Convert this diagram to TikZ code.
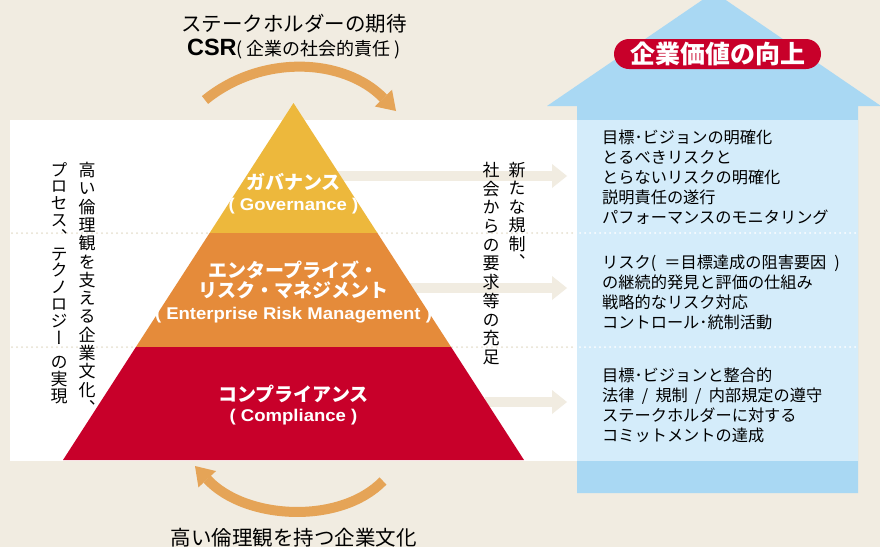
\documentclass[tikz,border=0pt]{standalone}
\usepackage{fontspec}
\setmainfont{Noto Sans CJK JP}
\newfontfamily\jpv[RawFeature=+vert]{Noto Sans CJK JP}
\newfontfamily\arialf{Liberation Sans}
\usetikzlibrary{arrows.meta}
\definecolor{bgc}{HTML}{F1ECE1}
\definecolor{skyc}{HTML}{A9D8F3}
\definecolor{paleblue}{HTML}{D4ECFA}
\definecolor{crimson}{HTML}{C8002A}
\definecolor{orangeband}{HTML}{E58B3A}
\definecolor{yellowband}{HTML}{EDB83C}
\definecolor{arcc}{HTML}{E5A457}
\definecolor{dotc}{HTML}{E6DFCD}
\newcommand\fs[2]{\fontsize{#1}{#2}\selectfont}
\newcommand\slsep{\hspace{0.45em}/\hspace{0.45em}}
\begin{document}
\begin{tikzpicture}[x=1pt,y=-1pt,
  blockarrow/.style={draw=bgc, line width=10pt, -{Triangle[width=24pt,length=15pt,line width=0pt]}},
  arcarrow/.style={draw=arcc, line width=10pt, -{Triangle[width=24pt,length=18pt,line width=0pt]}},
  dotline/.style={line width=2pt, line cap=round, dash pattern=on 0pt off 5pt},
  ptext/.style={text=white, font=\bfseries\fs{19}{20}, inner sep=0pt},
  plat/.style={text=white, font=\arialf\bfseries\fs{17}{18}, inner sep=0pt},
  rtext/.style={align=left, anchor=west, font=\fs{16.2}{20}, inner sep=0pt},
  vtext/.style={align=center, anchor=north, inner sep=0pt},
  toptext/.style={inner sep=0pt}]
\useasboundingbox (0,0) rectangle (880,547);
\fill[bgc] (0,0) rectangle (880,547);
% big blue arrow
\fill[skyc] (577,493) -- (577,106) -- (547,106) -- (714,-8) -- (881,106) -- (858,106) -- (858,493) -- cycle;
\fill[paleblue] (577,120) rectangle (858,461);
\fill[white] (10,120) rectangle (577,461);
% dotted separators
\draw[dotline, draw=dotc] (12,233) -- (575,233);
\draw[dotline, draw=dotc] (12,347) -- (575,347);
\draw[dotline, draw=white] (580,233) -- (856,233);
\draw[dotline, draw=white] (580,347) -- (856,347);
% block arrows
\coordinate (g1) at (336,176);  \coordinate (g1e) at (567,176);
\coordinate (g2) at (410,288);  \coordinate (g2e) at (567,288);
\coordinate (g3) at (485,402);  \coordinate (g3e) at (567,402);
\draw[blockarrow] (g1) -- (g1e);
\draw[blockarrow] (g2) -- (g2e);
\draw[blockarrow] (g3) -- (g3e);
% pyramid
\coordinate (apex) at (293.5,103);
\coordinate (l1) at (209.6,233); \coordinate (r1) at (377.4,233);
\coordinate (l2) at (135.9,347); \coordinate (r2) at (451.1,347);
\coordinate (bl) at (63,460);    \coordinate (br) at (524,460);
\fill[yellowband] (apex) -- (r1) -- (l1) -- cycle;
\fill[orangeband] (l1) -- (r1) -- (r2) -- (l2) -- cycle;
\fill[crimson] (l2) -- (r2) -- (br) -- (bl) -- cycle;
% pyramid texts
\node[ptext] (gov) at (293.5,182) {ガバナンス};
\node[plat] (goven) at (293.5,206.5) {\scalebox{1.09}[1]{( Governance )}};
\node[ptext] (erm1) at (293.5,270) {エンタープライズ・};
\node[ptext] (erm2) at (293.5,290.5) {リスク・マネジメント};
\node[plat] (ermen) at (293.5,315) {\scalebox{1.09}[1]{( Enterprise Risk Management )}};
\node[ptext] (comp) at (293.5,393.5) {コンプライアンス};
\node[plat] (compen) at (293.5,417.5) {\scalebox{1.09}[1]{( Compliance )}};
% vertical texts
\node[vtext, font=\jpv\fs{17}{18.3}] (vl1) at (87,162) {高\\い\\倫\\理\\観\\を\\支\\え\\る\\企\\業\\文\\化\\、};
\node[vtext, font=\jpv\fs{17}{16.8}] (vl2) at (59,162) {プ\\ロ\\セ\\ス\\、\\テ\\ク\\ノ\\ロ\\ジ\\ー\\[8pt]の\\実\\現};
\node[vtext, font=\jpv\fs{17}{18.4}] (vr1) at (517,162) {新\\た\\な\\規\\制\\、};
\node[vtext, font=\jpv\fs{17}{18.7}] (vr2) at (491,162) {社\\会\\か\\ら\\の\\要\\求\\等\\の\\充\\足};
% top and bottom texts
\node[toptext, font=\fs{20.5}{21}] (expect) at (294,24) {ステークホルダーの期待};
\node[toptext] (csr) at (294,49) {{\arialf\bfseries\fs{23.5}{24}CSR}{\fs{18}{18}( 企業の社会的責任 )}};
\node[toptext, font=\fs{20.5}{21}] (culture) at (293.5,538) {高い倫理観を持つ企業文化};
% arcs
\coordinate (t1) at (205,100); \coordinate (t2) at (396,111);
\draw[arcarrow] (t1) .. controls (261.8,53.7) and (344.3,58) .. (t2);
\coordinate (b1) at (383,481); \coordinate (b2) at (195,466);
\draw[arcarrow] (b1) .. controls (340,525) and (245,520) .. (b2);
% value label
\node[fill=crimson, rounded corners=15pt, minimum width=207pt, minimum height=30pt, inner sep=0pt, text=white, font=\bfseries\fs{25}{26}] (value) at (717.5,54) {企業価値の向上};
% right panel texts
\node[rtext] (rt1) at (602,177) {目標･ビジョンの明確化\\とるべきリスクと\\とらないリスクの明確化\\説明責任の遂行\\パフォーマンスのモニタリング};
\node[rtext] (rt2) at (602,292) {リスク(\hspace{0.5em}＝目標達成の阻害要因\hspace{0.5em})\\の継続的発見と評価の仕組み\\戦略的なリスク対応\\コントロール･統制活動};
\node[rtext] (rt3) at (602,405) {目標･ビジョンと整合的\\法律\slsep 規制\slsep 内部規定の遵守\\ステークホルダーに対する\\コミットメントの達成};
\end{tikzpicture}
\end{document}
